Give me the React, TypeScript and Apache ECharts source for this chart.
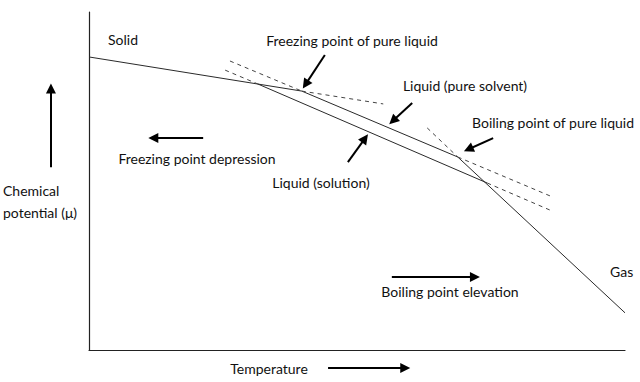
import React, { useEffect, useRef } from "react";
import * as echarts from "echarts";

// Curves (Temperature on x, chemical potential on y, arbitrary 0–100 units)
const solidCurve = [[0, 86.7], [39.7, 76.6]];
const pureLiquidCurve = [[39.7, 76.6], [68.8, 57.1]];
const solutionCurve = [[31.5, 78.7], [74.3, 49.4]];
const gasCurve = [[68.8, 57.1], [100, 11.0]];

// Dashed (metastable) extensions
const solidExt = [[39.7, 76.6], [54.9, 72.8]];
const pureExtLeft = [[26.3, 85.5], [39.7, 76.6]];
const solExtLeft = [[25.4, 82.8], [31.5, 78.7]];
const gasExt = [[63.1, 65.7], [68.8, 57.1]];
const pureExtRight = [[68.8, 57.1], [86.0, 45.6]];
const solExtRight = [[74.3, 49.4], [86.0, 41.4]];

// Annotation arrows: [tail, tip]
const arrows = [
  [[44.0, 87.3], [40.4, 78.6]],
  [[60.3, 73.1], [56.7, 67.8]],
  [[75.4, 62.7], [70.8, 59.4]],
  [[48.3, 55.6], [51.5, 62.6]],
  [[21.3, 62.7], [12.0, 62.7]],
  [[56.5, 21.6], [72.0, 21.6]],
  [[-7.1, 54.1], [-7.1, 77.4]],
  [[44.6, -5.3], [59.0, -5.3]],
];

// Labels
const labels = [
  { text: "Solid", x: 123, y: 39, align: "center" },
  { text: "Freezing point of pure liquid", x: 352, y: 40, align: "center" },
  { text: "Liquid (pure solvent)", x: 465, y: 85, align: "center" },
  { text: "Boiling point of pure liquid", x: 553, y: 122, align: "center" },
  { text: "Freezing point depression", x: 197, y: 158, align: "center" },
  { text: "Liquid (solution)", x: 321, y: 182, align: "center" },
  { text: "Chemical", x: 3, y: 190, align: "left" },
  { text: "potential (μ)", x: 3, y: 212, align: "left" },
  { text: "Boiling point elevation", x: 450, y: 291, align: "center" },
  { text: "Gas", x: 610, y: 271, align: "left" },
  { text: "Temperature", x: 269, y: 368, align: "center" },
];

const FONT = "Lato, 'Open Sans', sans-serif";

export default function App() {
  const ref = useRef<HTMLDivElement>(null);
  useEffect(() => {
    const chart = echarts.init(ref.current!, null, { renderer: "svg" });
    const solid = (name: string, data: number[][]) => ({
      type: "line",
      name,
      data,
      symbol: "none",
      lineStyle: { color: "#2a2a2a", width: 1 },
      silent: true,
    });
    const dashed = (name: string, data: number[][]) => ({
      type: "line",
      name,
      data,
      symbol: "none",
      lineStyle: { color: "#444", width: 1, type: [4, 4] },
      silent: true,
    });
    chart.setOption({
      animation: false,
      backgroundColor: "#fff",
      grid: { left: 89, right: 15, top: 12, bottom: 32 },
      xAxis: {
        type: "value",
        min: 0,
        max: 100,
        axisLine: { show: true, onZero: false, lineStyle: { color: "#222", width: 1.2 } },
        axisTick: { show: false },
        axisLabel: { show: false },
        splitLine: { show: false },
      },
      yAxis: {
        type: "value",
        min: 0,
        max: 100,
        axisLine: { show: true, onZero: false, lineStyle: { color: "#222", width: 1.2 } },
        axisTick: { show: false },
        axisLabel: { show: false },
        splitLine: { show: false },
      },
      series: [
        solid("solid", solidCurve),
        solid("pure", pureLiquidCurve),
        solid("solution", solutionCurve),
        solid("gas", gasCurve),
        dashed("solidExt", solidExt),
        dashed("pureExtLeft", pureExtLeft),
        dashed("solExtLeft", solExtLeft),
        dashed("gasExt", gasExt),
        dashed("pureExtRight", pureExtRight),
        dashed("solExtRight", solExtRight),
        {
          type: "lines",
          coordinateSystem: "cartesian2d",
          clip: false,
          silent: true,
          symbol: ["none", "triangle"],
          symbolSize: [9, 10],
          lineStyle: { color: "#000", width: 2, opacity: 1 },
          data: arrows.map((c) => ({ coords: c })),
        },
      ],
      graphic: labels.map((l) => ({
        type: "text",
        x: l.x,
        y: l.y,
        style: {
          text: l.text,
          fill: "#111",
          font: `14px ${FONT}`,
          textAlign: l.align,
          textVerticalAlign: "middle",
        },
      })),
    });
    return () => chart.dispose();
  }, []);
  return (
    <div
      ref={ref}
      style={{ position: "absolute", left: 0, top: 0, width: 640, height: 382 }}
    />
  );
}
